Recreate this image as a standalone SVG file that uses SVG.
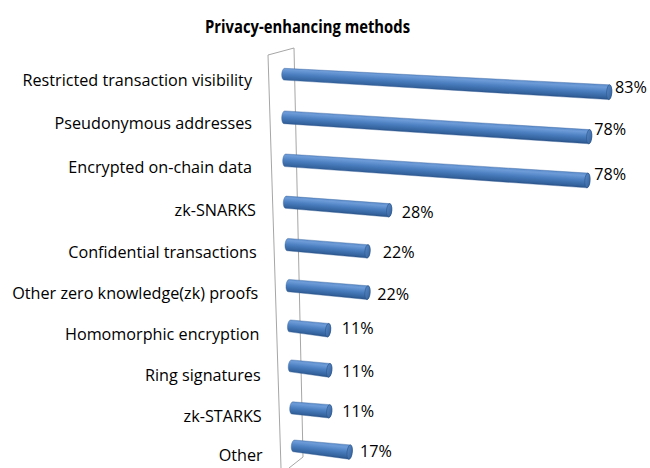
<svg xmlns="http://www.w3.org/2000/svg" width="650" height="468" viewBox="0 0 650 468">
  <style>
    .title { font-family: "Open Sans", "Liberation Sans", sans-serif; font-weight: bold; font-size: 17px; fill: #000; }
    .cat { font-family: "Open Sans", "Liberation Sans", sans-serif; font-size: 16.2px; fill: #000; text-anchor: end; }
    .val { font-family: "Open Sans", "Liberation Sans", sans-serif; font-size: 16.2px; fill: #000; }
    .wall { fill: none; stroke: #a6a6a6; stroke-width: 1; }
    .body { fill: url(#barBody); stroke: #3a659c; stroke-width: 0.4; }
    .cap { fill: url(#barCap); stroke: #2b5588; stroke-width: 0.6; }
  </style>
  <defs>
    <linearGradient id="barBody" x1="0" y1="0" x2="0" y2="1">
      <stop offset="0" stop-color="#5d8dcc"/>
      <stop offset="0.18" stop-color="#6d9bd8"/>
      <stop offset="0.5" stop-color="#4a7ebf"/>
      <stop offset="0.85" stop-color="#35649f"/>
      <stop offset="1" stop-color="#284f84"/>
    </linearGradient>
    <linearGradient id="barCap" x1="0" y1="0" x2="1" y2="1">
      <stop offset="0" stop-color="#5a8ac8"/>
      <stop offset="1" stop-color="#33609a"/>
    </linearGradient>
  </defs>

  <!-- chart title -->
  <text class="title" x="307.5" y="33" text-anchor="middle" textLength="205" lengthAdjust="spacingAndGlyphs">Privacy-enhancing methods</text>

  <!-- back wall and floor edges -->
  <g id="walls">
    <path class="wall" d="M281,468 L268,55 L294,48 L303,457 L289,468"/>
  </g>

  <!-- category labels -->
  <g id="categories">
    <text class="cat" x="252" y="86">Restricted transaction visibility</text>
    <text class="cat" x="252" y="129.3">Pseudonymous addresses</text>
    <text class="cat" x="252" y="173.3">Encrypted on-chain data</text>
    <text class="cat" x="256" y="216">zk-SNARKS</text>
    <text class="cat" x="256.7" y="257.7">Confidential transactions</text>
    <text class="cat" x="258.3" y="299.3">Other zero knowledge(zk) proofs</text>
    <text class="cat" x="259.5" y="340">Homomorphic encryption</text>
    <text class="cat" x="260.7" y="380.7">Ring signatures</text>
    <text class="cat" x="261.7" y="421.7">zk-STARKS</text>
    <text class="cat" x="262.7" y="460.7">Other</text>
  </g>

  <!-- cylinder bars: drawn in local coordinates (origin = left end centre) -->
  <g id="bar-restricted" transform="translate(284.3,74.2) rotate(3.17)">
    <path class="body" d="M0,-5.9 L325.4,-7.4 A2.6,7.4 0 0 1 325.4,7.4 L0,5.9 A2.6,5.9 0 0 1 0,-5.9 Z"/>
    <ellipse class="cap" cx="325.4" cy="0" rx="2.6" ry="7.4"/>
  </g>
  <g id="bar-pseudonymous" transform="translate(284.3,117.3) rotate(3.64)">
    <path class="body" d="M0,-6.4 L305.5,-7.1 A2.6,7.1 0 0 1 305.5,7.1 L0,6.4 A2.6,6.4 0 0 1 0,-6.4 Z"/>
    <ellipse class="cap" cx="305.5" cy="0" rx="2.6" ry="7.1"/>
  </g>
  <g id="bar-encrypted" transform="translate(285.3,160.3) rotate(3.82)">
    <path class="body" d="M0,-6.3 L302.8,-7.4 A2.6,7.4 0 0 1 302.8,7.4 L0,6.3 A2.6,6.3 0 0 1 0,-6.3 Z"/>
    <ellipse class="cap" cx="302.8" cy="0" rx="2.6" ry="7.4"/>
  </g>
  <g id="bar-snarks" transform="translate(285.9,202.2) rotate(4.48)">
    <path class="body" d="M0,-6.1 L103.6,-6.7 A2.6,6.7 0 0 1 103.6,6.7 L0,6.1 A2.6,6.1 0 0 1 0,-6.1 Z"/>
    <ellipse class="cap" cx="103.6" cy="0" rx="2.6" ry="6.7"/>
  </g>
  <g id="bar-confidential" transform="translate(287.6,244.6) rotate(4.84)">
    <path class="body" d="M0,-6.2 L80.2,-6.7 A2.6,6.7 0 0 1 80.2,6.7 L0,6.2 A2.6,6.2 0 0 1 0,-6.2 Z"/>
    <ellipse class="cap" cx="80.2" cy="0" rx="2.6" ry="6.7"/>
  </g>
  <g id="bar-otherzk" transform="translate(288.6,285.6) rotate(5.1)">
    <path class="body" d="M0,-6.2 L79.2,-6.9 A2.6,6.9 0 0 1 79.2,6.9 L0,6.2 A2.6,6.2 0 0 1 0,-6.2 Z"/>
    <ellipse class="cap" cx="79.2" cy="0" rx="2.6" ry="6.9"/>
  </g>
  <g id="bar-homomorphic" transform="translate(290.1,325.9) rotate(6.5)">
    <path class="body" d="M0,-6 L38.2,-6.8 A2.6,6.8 0 0 1 38.2,6.8 L0,6 A2.6,6 0 0 1 0,-6 Z"/>
    <ellipse class="cap" cx="38.2" cy="0" rx="2.6" ry="6.8"/>
  </g>
  <g id="bar-ring" transform="translate(290.9,365.9) rotate(6.6)">
    <path class="body" d="M0,-6 L38.6,-6.9 A2.6,6.9 0 0 1 38.6,6.9 L0,6 A2.6,6 0 0 1 0,-6 Z"/>
    <ellipse class="cap" cx="38.6" cy="0" rx="2.6" ry="6.9"/>
  </g>
  <g id="bar-starks" transform="translate(292.3,407.9) rotate(5.3)">
    <path class="body" d="M0,-6.1 L37.1,-6.7 A2.6,6.7 0 0 1 37.1,6.7 L0,6.1 A2.6,6.1 0 0 1 0,-6.1 Z"/>
    <ellipse class="cap" cx="37.1" cy="0" rx="2.6" ry="6.7"/>
  </g>
  <g id="bar-other" transform="translate(293.9,445.9) rotate(6.3)">
    <path class="body" d="M0,-5.9 L56.1,-7.2 A2.6,7.2 0 0 1 56.1,7.2 L0,5.9 A2.6,5.9 0 0 1 0,-5.9 Z"/>
    <ellipse class="cap" cx="56.1" cy="0" rx="2.6" ry="7.2"/>
  </g>

  <!-- value labels -->
  <g id="values">
    <text class="val" x="615" y="92.7">83%</text>
    <text class="val" x="594.3" y="135">78%</text>
    <text class="val" x="594.3" y="180">78%</text>
    <text class="val" x="401.7" y="218.3">28%</text>
    <text class="val" x="382.7" y="258.3">22%</text>
    <text class="val" x="377.3" y="300">22%</text>
    <text class="val" x="341.7" y="334">11%</text>
    <text class="val" x="342.3" y="376.7">11%</text>
    <text class="val" x="342.3" y="417.3">11%</text>
    <text class="val" x="360" y="457.3">17%</text>
  </g>
</svg>
